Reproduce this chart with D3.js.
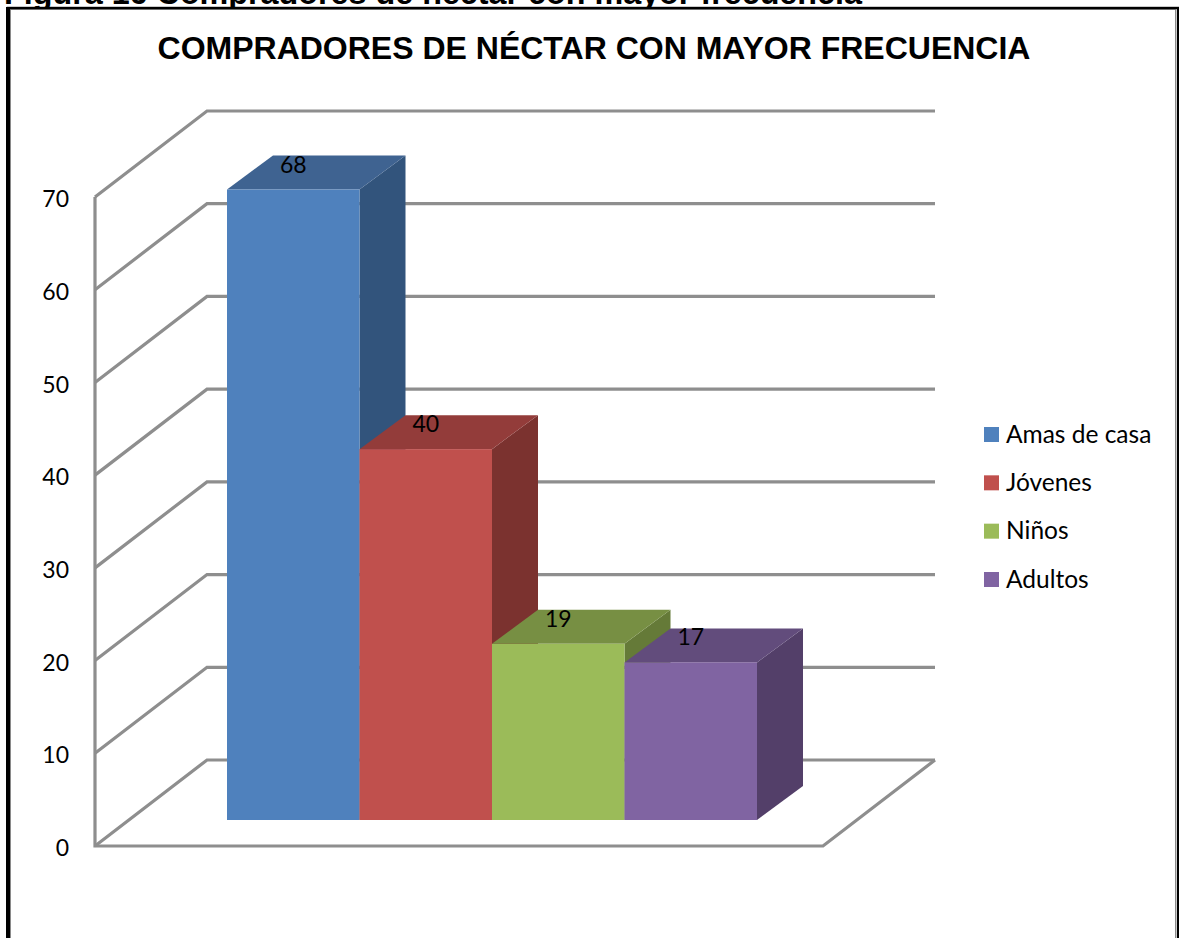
<!DOCTYPE html>
<html lang="es">
<head>
<meta charset="utf-8">
<title>Compradores de néctar</title>
<script src="https://cdn.jsdelivr.net/npm/d3@7/dist/d3.min.js"></script>
<style>
html,body{margin:0;padding:0;background:#fff;overflow:hidden}
svg{display:block}
.lato{font-family:Lato,"Open Sans",sans-serif;fill:#000}
.arial{font-family:"Liberation Sans",Arial,sans-serif;font-weight:700;fill:#000}
</style>
</head>
<body>
<svg id="c" width="1179" height="938"></svg>
<script>
const caption = "Figura 16 Compradores de néctar con mayor frecuencia";
const chartTitle = "COMPRADORES DE NÉCTAR CON MAYOR FRECUENCIA";
const categories = ["Amas de casa", "Jóvenes", "Niños", "Adultos"];
const values = [68, 40, 19, 17];
const tickValues = [0, 10, 20, 30, 40, 50, 60, 70];
const frontColors = ["#4F81BD", "#C0504D", "#9BBB59", "#8064A2"];
const topColors = ["#3F6391", "#933C3A", "#778F43", "#624C7C"];
const sideColors = ["#32547C", "#7B322F", "#657A38", "#533F69"];

const svg = d3.select("#c");
const W = 1179, H = 938;

// Projection of the 3-D box
const y = d3.scaleLinear().domain([0, 70]).range([846, 197]);
const wall = {dx: 112, dy: -86, width: 727};
const barOffset = {x: 0, y: -26};
const barDepth = {dx: 46, dy: -34};
const x = d3.scaleBand().domain(categories).range([227, 757]).padding(0);
const baseY = y(0) + barOffset.y;
const h = v => y(0) - y(v);
const line = d3.line();
const poly = pts => line(pts) + "Z";

// Caption, clipped by the top of the page as in the reference
svg.append("text").attr("class", "arial").attr("x", 4).attr("y", 4)
  .attr("font-size", 32.3).text(caption);

// Frame
const frame = svg.append("g");
frame.append("rect").attr("x", 10.5).attr("y", 9.5).attr("width", 1165).attr("height", 940)
  .attr("fill", "#fff").attr("stroke", "#8a8a8a").attr("stroke-width", 1);
frame.append("rect").attr("x", 8).attr("y", 8).attr("width", 1170).attr("height", 950)
  .attr("fill", "none").attr("stroke", "#000").attr("stroke-width", 2.4);
frame.append("rect").attr("x", 6).attr("y", 7).attr("width", 4).attr("height", H)
  .attr("fill", "#000");

// Title
svg.append("text").attr("class", "arial").attr("x", 594).attr("y", 59)
  .attr("text-anchor", "middle").attr("font-size", 32).text(chartTitle);

// Gridlines (wall + back)
const grid = svg.append("g").attr("fill", "none").attr("stroke", "#8e8e8e")
  .attr("stroke-width", 3.2).attr("stroke-linejoin", "miter");
const x0 = 95, xBack = x0 + wall.dx, xEnd = xBack + wall.width + 1;
grid.selectAll("path.g").data(tickValues).join("path").attr("class", "g")
  .attr("d", d => line([[x0, y(d)], [xBack, y(d) + wall.dy], [xEnd, y(d) + wall.dy]]));
// Vertical axis and floor
grid.append("path").attr("d", line([[x0, y(70)], [x0, y(0)], [xEnd - wall.dx, y(0)], [xEnd, y(0) + wall.dy]]));

// Axis labels
const axis = d3.axisLeft(y).tickValues(tickValues).tickSize(0).tickPadding(26);
const gAxis = svg.append("g").attr("transform", `translate(${x0},0)`).call(axis);
gAxis.select(".domain").remove();
gAxis.selectAll("text").attr("class", "lato").attr("font-size", 23).attr("dy", "0.42em");

// Bars
const bars = svg.append("g").selectAll("g").data(categories).join("g");
bars.each(function (c, i) {
  const g = d3.select(this), v = values[i];
  const l = x(c), r = l + x.bandwidth(), t = baseY - h(v), b = baseY;
  const dx = barDepth.dx, dy = barDepth.dy;
  g.append("path").attr("fill", sideColors[i])
    .attr("d", poly([[r, t], [r + dx, t + dy], [r + dx, b + dy], [r, b]]));
  g.append("path").attr("fill", topColors[i])
    .attr("d", poly([[l, t], [l + dx, t + dy], [r + dx, t + dy], [r, t]]));
  g.append("rect").attr("fill", frontColors[i])
    .attr("x", l).attr("y", t).attr("width", x.bandwidth()).attr("height", h(v));
});

// Data labels
svg.append("g").selectAll("text").data(values).join("text")
  .attr("class", "lato").attr("font-size", 23).attr("text-anchor", "middle")
  .attr("x", (d, i) => x(categories[i]) + x.bandwidth() / 2)
  .attr("y", d => baseY - h(d) - 17)
  .text(d => d);

// Legend
const legendY = d3.scalePoint().domain(categories).range([434.5, 579.5]);
const legend = svg.append("g").selectAll("g").data(categories).join("g")
  .attr("transform", d => `translate(984,${legendY(d)})`);
legend.append("rect").attr("x", 0).attr("y", -7.5).attr("width", 15).attr("height", 15)
  .attr("fill", (d, i) => frontColors[i]);
legend.append("text").attr("class", "lato").attr("x", 22).attr("y", 8)
  .attr("font-size", 24.5).text(d => d);
</script>
</body>
</html>
